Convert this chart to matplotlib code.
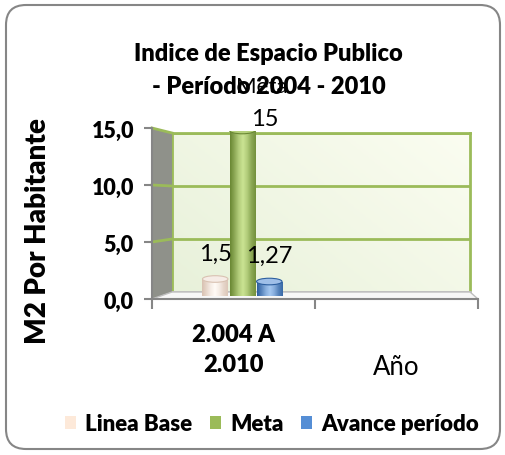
import numpy as np
import matplotlib.pyplot as plt
from matplotlib.patches import FancyBboxPatch, Polygon, Ellipse, Rectangle
from matplotlib.colors import LinearSegmentedColormap
from matplotlib.transforms import IdentityTransform, blended_transform_factory

plt.rcParams['font.family'] = ['Lato', 'DejaVu Sans']

# data
categories = ['2.004 A\n2.010', 'Año']
series = ['Linea Base', 'Meta', 'Avance período']
values = [1.5, 15, 1.27]
value_labels = ['1,5', '15', '1,27']
yticks = [0, 5, 10, 15]
ytick_labels = ['0,0', '5,0', '10,0', '15,0']

# styles
legend_colors = ['#fde9d9', '#9bbb59', '#558ed5']
edge_dark = ['#d9c2b2', '#6a8834', '#2d5f9f']
highlight = ['#fffaf6', '#c9e291', '#a3c6f0']
top_colors = ['#f6ece6', '#b4d07a', '#9fbfe8']
label_offsets = [(0, 14), (16, 4), (0, 14)]
BOLD = 'heavy'

W, H = 506, 456
fig = plt.figure(figsize=(W / 100, H / 100), dpi=100)


def box(l, t, r, b):
    return [l / W, 1 - b / H, (r - l) / W, (b - t) / H]


def to_fig(axx, p):
    return fig.transFigure.inverted().transform(axx.transData.transform(p))


# outer rounded border
fig.add_artist(FancyBboxPatch((6, 6), W - 12, H - 12,
                              boxstyle='round,pad=0,rounding_size=20',
                              transform=IdentityTransform(),
                              facecolor='white', edgecolor='#868686', lw=1.5))

back = fig.add_axes(box(172, 134, 470, 293))
mid = fig.add_axes(box(165, 131.5, 474, 296.5))
ax = fig.add_axes(box(152, 129, 478, 300))
back.set_zorder(1)
mid.set_zorder(3)
ax.set_zorder(4)

for a in (back, mid, ax):
    a.set_xlim(0, 2)
    a.set_ylim(0, 15)
    a.patch.set_alpha(0)

# back wall
wall_cmap = LinearSegmentedColormap.from_list('wall', ['#e8f1da', '#fbfdf1'])
gx, gy = np.meshgrid(np.linspace(0, 1, 100), np.linspace(0, 1, 100))
back.imshow(gx * 0.6 + gy * 0.4, extent=[0, 2, 0, 15], origin='lower',
            aspect='auto', cmap=wall_cmap, zorder=0)
for v in yticks[1:]:
    back.axhline(v, color='#9bbb59', lw=2, zorder=1)
for s in back.spines.values():
    s.set_color('#9bbb59')
    s.set_linewidth(2)
back.spines['bottom'].set_color('#bfbfbf')
back.set_xticks([])
back.set_yticks([])

# side wall and floor
side = [to_fig(ax, (0, 0)), to_fig(ax, (0, 15)), to_fig(back, (0, 15)), to_fig(back, (0, 0))]
fig.add_artist(Polygon(side, closed=True, transform=fig.transFigure,
                       facecolor='#8f918a', edgecolor='none', zorder=2))
floor = [to_fig(ax, (0, 0)), to_fig(ax, (2, 0)), to_fig(back, (2, 0)), to_fig(back, (0, 0))]
fig.add_artist(Polygon(floor, closed=True, transform=fig.transFigure,
                       facecolor='#f7f7f7', edgecolor='#bfbfbf', lw=1, zorder=2))
for v in yticks[1:]:
    a0, a1 = to_fig(ax, (0, v)), to_fig(back, (0, v))
    fig.add_artist(plt.Line2D([a0[0], a1[0]], [a0[1], a1[1]], color='#9bbb59',
                              lw=2, transform=fig.transFigure, zorder=2.5))

# cylinders
w = 0.165
step = 0.175
e = 0.6
grad = np.array([0.0, 0.35, 0.75, 1.0, 0.75, 0.35, 0.1])
grad = np.interp(np.linspace(0, 6, 60), np.arange(7), grad)[None, :]
for i, v in enumerate(values):
    x = 0.5 + (i - 1) * step
    cmap = LinearSegmentedColormap.from_list('c%d' % i, [edge_dark[i], highlight[i]])
    rect = Rectangle((x - w / 2, 0), w, v, transform=mid.transData)
    im = mid.imshow(grad, extent=[x - w / 2, x + w / 2, -e, v], aspect='auto',
                    cmap=cmap, zorder=2)
    im.set_clip_path(rect)
    bot = Ellipse((x, 0), w, e, transform=mid.transData)
    im2 = mid.imshow(grad, extent=[x - w / 2, x + w / 2, -e, v], aspect='auto',
                     cmap=cmap, zorder=2)
    im2.set_clip_path(bot)
    mid.add_patch(Ellipse((x, v), w, e, facecolor=top_colors[i],
                          edgecolor=edge_dark[i], lw=0.8, zorder=3))
    mid.annotate(value_labels[i], (x, v), xytext=label_offsets[i],
                 textcoords='offset points', ha='center', va='baseline',
                 fontsize=17, color='black', zorder=5)
mid.axis('off')

# front axes
for s in ['top', 'right']:
    ax.spines[s].set_visible(False)
for s in ['left', 'bottom']:
    ax.spines[s].set_color('#868686')
    ax.spines[s].set_linewidth(1.5)
ax.set_yticks(yticks)
ax.set_yticklabels(ytick_labels, fontsize=15.5, fontweight=BOLD)
ax.set_xticks([0, 1, 2])
ax.set_xticklabels([])
ax.tick_params(axis='both', color='#868686', length=6, width=1.5, pad=7)
ax.tick_params(axis='x', length=7)
ax.set_ylabel('M2 Por Habitante', fontsize=20, fontweight=BOLD)
ax.yaxis.set_label_coords(-(152 - 51) / (478 - 152), (300 - 231) / (300 - 129))

tb = blended_transform_factory(ax.transData, fig.transFigure)
ax.text(0.5, 1 - 350 / H, categories[0], transform=tb, ha='center', va='center',
        fontsize=17, fontweight=BOLD, linespacing=1.45)
ax.text(1.5, 1 - 368 / H, categories[1], transform=tb, ha='center', va='center',
        fontsize=18.5)

# title
fig.text(268 / W, 1 - 54 / H, 'Indice de Espacio Publico', ha='center',
         va='center', fontsize=17, fontweight=BOLD)
fig.text(269 / W, 1 - 87 / H, '- Período 2004 - 2010', ha='center',
         va='center', fontsize=17, fontweight=BOLD)
fig.text(262 / W, 1 - 87 / H, 'Meta', ha='center', va='center', fontsize=16)

handles = [Rectangle((0, 0), 1, 1, facecolor=c) for c in legend_colors]
fig.legend(handles, series, loc='center', bbox_to_anchor=(272 / W, 1 - 425 / H),
           ncol=3, frameon=False, prop={'weight': BOLD, 'size': 16},
           handlelength=0.5, handleheight=0.5, handletextpad=0.4,
           columnspacing=0.8)

fig.savefig('out.png', dpi=100)
